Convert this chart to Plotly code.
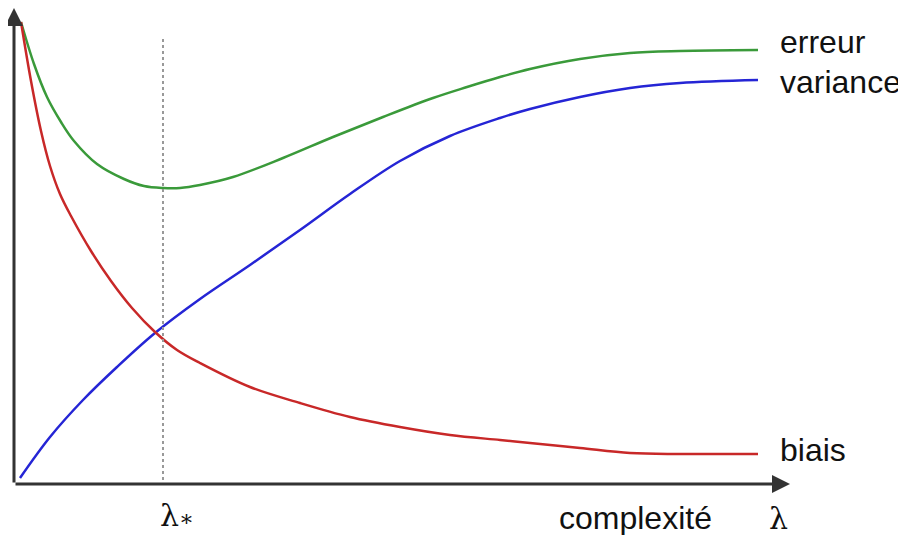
import plotly.graph_objects as go

# values (x = complexité, y = niveau), same scale for all curves
erreur_x = [7, 20, 33, 47, 60, 83, 110, 130, 149, 166, 186, 219, 269, 319, 369, 419, 453, 486,
            516, 566, 616, 666, 744]
erreur_y = [462, 420, 387, 362, 343, 320, 305, 298, 296, 296, 299, 307, 326, 347, 367, 386, 397, 407,
            415, 425, 431, 433, 434]

variance_x = [6, 36, 69, 103, 141, 186, 236, 286, 336, 386, 436, 486, 516, 566, 616, 666, 744]
variance_y = [6, 47, 84, 117, 151, 185, 219, 254, 290, 323, 348, 366, 375, 387, 396, 401, 404]

biais_x = [7, 17, 27, 36, 46, 57, 77, 97, 118, 141, 163, 186, 236, 286, 336, 386, 436, 486, 516,
           566, 616, 666, 744]
biais_y = [462, 403, 353, 318, 290, 268, 233, 203, 176, 152, 134, 121, 97, 81, 67, 57, 49, 44, 41,
           36, 31, 30, 30]

lam_star = 149
x_max, y_max = 776, 476

fig = go.Figure()

fig.add_trace(go.Scatter(x=erreur_x, y=erreur_y, mode='lines', name='erreur',
                         line=dict(color='#3a9a3a', width=2.5, shape='spline')))
fig.add_trace(go.Scatter(x=variance_x, y=variance_y, mode='lines', name='variance',
                         line=dict(color='#2525d5', width=2.5, shape='spline')))
fig.add_trace(go.Scatter(x=biais_x, y=biais_y, mode='lines', name='biais',
                         line=dict(color='#c82828', width=2.5, shape='spline')))

# dotted line at lambda*
fig.add_shape(type='line', x0=lam_star, x1=lam_star, y0=4, y1=447,
              line=dict(color='#999999', width=2, dash='dot'))

# axes drawn as arrows
for tx, ty in [(x_max, 0), (0, y_max)]:
    fig.add_annotation(x=tx, y=ty, ax=0, ay=0, axref='x', ayref='y', xref='x', yref='y',
                       text='', showarrow=True, arrowhead=2, arrowsize=1.2,
                       arrowwidth=3, arrowcolor='#333333')

sans = dict(family='Liberation Sans, Arial', size=32, color='#111111')
serif = dict(family='DejaVu Serif', size=30, color='#111111')

for txt, yy in [('erreur', 442), ('variance', 402), ('biais', 34)]:
    fig.add_annotation(x=764, y=yy, text=txt, showarrow=False, xanchor='left',
                       yanchor='middle', font=sans)

# labels under the x axis (paper units so they are not hidden)
fig.add_annotation(x=543, y=-34 / y_max, yref='paper', text='complexité', showarrow=False,
                   xanchor='left', yanchor='middle', font=sans)
fig.add_annotation(x=764, y=-34 / y_max, yref='paper', text='λ', showarrow=False,
                   xanchor='center', yanchor='middle', font=serif)
fig.add_annotation(x=144, y=-31 / y_max, yref='paper',
                   text="λ<span style='font-size:22px'>∗</span>", showarrow=False,
                   xanchor='left', yanchor='middle', font=serif)

# page body has an 8px margin, so the figure is drawn 8px smaller
fig.update_layout(
    width=898, height=527,
    margin=dict(l=6, r=116, t=0, b=51),
    plot_bgcolor='white', paper_bgcolor='white',
    showlegend=False,
    xaxis=dict(range=[0, x_max], visible=False),
    yaxis=dict(range=[0, y_max], visible=False),
)
fig.update_traces(cliponaxis=False)

fig.write_html("out.html")
